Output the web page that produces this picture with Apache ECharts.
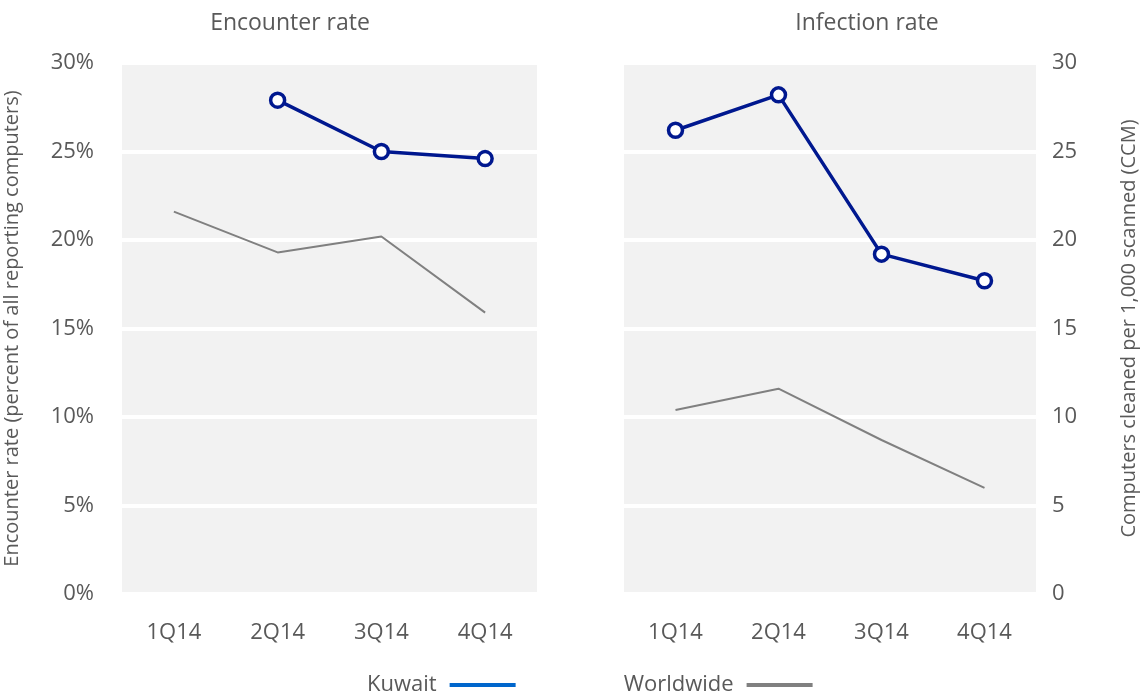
<!DOCTYPE html>
<html>
<head>
<meta charset="utf-8">
<script src="https://cdn.jsdelivr.net/npm/echarts@6/dist/echarts.min.js"></script>
<style>
  html, body { margin: 0; padding: 0; background: #fff; }
  #chart { width: 1140px; height: 696px; }
</style>
</head>
<body>
<div id="chart"></div>
<script>
// quarters on both panels
const quarters = ['1Q14', '2Q14', '3Q14', '4Q14']
// encounter rate, percent
const encounterKuwait = [null, 27.9, 25.0, 24.6]
const encounterWorld = [21.6, 19.3, 20.2, 15.9]
// infection rate, CCM
const infectionKuwait = [26.2, 28.2, 19.2, 17.7]
const infectionWorld = [10.4, 11.6, 8.7, 6.0]

const textColor = '#595959'
const font = 'Open Sans'
const kuwaitColor = '#00188f'
const worldColor = '#808080'

const chart = echarts.init(document.getElementById('chart'))

function yAxis (gridIndex, position, name, fmt, nameGap, margin) {
  return {
    type: 'value',
    gridIndex: gridIndex,
    position: position,
    min: 0,
    max: 30,
    interval: 5,
    name: name,
    nameLocation: 'middle',
    nameGap: nameGap,
    nameRotate: 90,
    nameTextStyle: { color: textColor, fontSize: 20, fontFamily: font },
    axisLine: { show: false },
    axisTick: { show: false },
    axisLabel: { color: textColor, fontSize: 22, fontFamily: font, margin: margin, formatter: fmt },
    splitLine: { show: true, lineStyle: { color: '#ffffff', width: 4 } }
  }
}

function xAxis (gridIndex) {
  return {
    type: 'category',
    gridIndex: gridIndex,
    data: quarters,
    axisLine: { show: false },
    axisTick: { show: false },
    axisLabel: { color: textColor, fontSize: 22, fontFamily: font, margin: 28 }
  }
}

function kuwaitSeries (idx, data) {
  return {
    name: 'Kuwait',
    type: 'line',
    xAxisIndex: idx,
    yAxisIndex: idx,
    data: data,
    symbol: 'circle',
    symbolSize: 14,
    connectNulls: false,
    lineStyle: { color: kuwaitColor, width: 3.5 },
    itemStyle: { color: '#ffffff', borderColor: kuwaitColor, borderWidth: 3.5 },
    z: 3
  }
}

function worldSeries (idx, data) {
  return {
    name: 'Worldwide',
    type: 'line',
    xAxisIndex: idx,
    yAxisIndex: idx,
    data: data,
    symbol: 'none',
    lineStyle: { color: worldColor, width: 2 },
    itemStyle: { color: worldColor },
    z: 2
  }
}

const options = {
  backgroundColor: '#fff',
  animation: false,
  title: [
    { text: 'Encounter rate', left: 285, top: 7, textAlign: 'center',
      textStyle: { color: textColor, fontSize: 23, fontWeight: 'normal', fontFamily: font } },
    { text: 'Infection rate', left: 862, top: 7, textAlign: 'center',
      textStyle: { color: textColor, fontSize: 23, fontWeight: 'normal', fontFamily: font } }
  ],
  legend: {
    top: 669,
    left: 362,
    align: 'right',
    itemGap: 108,
    itemWidth: 66,
    itemHeight: 4,
    textStyle: { color: textColor, fontSize: 22, fontFamily: font, padding: [0, 8, 0, 0] },
    data: [
      { name: 'Kuwait', icon: 'rect', itemStyle: { color: '#0066cc', borderWidth: 0 } },
      { name: 'Worldwide', icon: 'rect', itemStyle: { color: worldColor, borderWidth: 0 } }
    ]
  },
  grid: [
    { left: 122, right: 603, top: 63, bottom: 102, show: true, backgroundColor: '#f2f2f2', borderWidth: 0 },
    { left: 624, right: 101, top: 63, bottom: 102, show: true, backgroundColor: '#f2f2f2', borderWidth: 0 }
  ],
  xAxis: [xAxis(0), xAxis(1)],
  yAxis: [
    yAxis(0, 'left', 'Encounter rate (percent of all reporting computers)', '{value}%', 100, 28),
    yAxis(1, 'right', 'Computers cleaned per 1,000 scanned (CCM)', '{value}', 83, 16)
  ],
  series: [
    worldSeries(0, encounterWorld),
    kuwaitSeries(0, encounterKuwait),
    worldSeries(1, infectionWorld),
    kuwaitSeries(1, infectionKuwait)
  ]
}

chart.setOption(options, true)
</script>
</body>
</html>
